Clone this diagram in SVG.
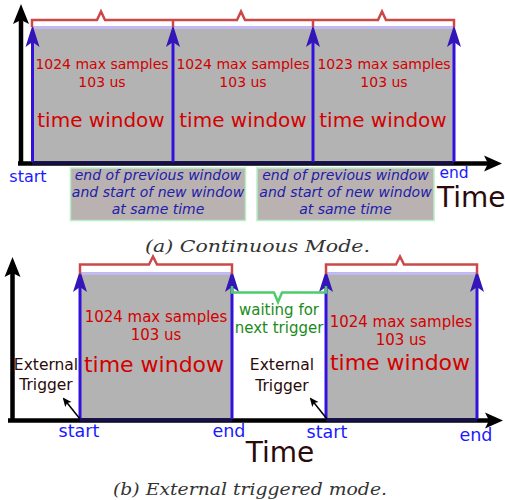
<svg xmlns="http://www.w3.org/2000/svg" xmlns:xlink="http://www.w3.org/1999/xlink" width="505" height="500" viewBox="0 0 505 500">
<style>
.win{fill:#b3b3b3}
.strip{fill:#c4b8f2}
.bl{stroke:#3311dd;stroke-width:3;fill:none}
.ah{fill:#3415b8}
.ax{stroke:#000;stroke-width:4.5;fill:none}
.axn{stroke:#16104a;stroke-width:3.5;fill:none}
.br{stroke:#cc4848;stroke-width:2.5;fill:none;stroke-linejoin:miter}
.gb{stroke:#4ccc6a;stroke-width:2.5;fill:none}
.rt{font-family:"DejaVu Sans",sans-serif;fill:#d40000;text-anchor:middle}
.bt{font-family:"DejaVu Sans",sans-serif;fill:#1a1aff;text-anchor:middle}
.box{fill:#bab2b1;stroke:#b6eec6;stroke-width:1.5}
.bx{font-family:"DejaVu Sans",sans-serif;font-style:italic;font-size:14px;fill:#2020a8;text-anchor:middle}
.tm{font-family:"DejaVu Sans",sans-serif;font-size:28px;fill:#2b0a0a}
.et{font-family:"DejaVu Sans",sans-serif;font-size:15.5px;fill:#2b0a0a;text-anchor:middle}
.gt{font-family:"DejaVu Sans",sans-serif;font-size:15px;fill:#1a8c1a;text-anchor:middle}
.cap{font-family:"DejaVu Serif","Liberation Serif",serif;font-style:italic;font-size:17px;fill:#333}
</style>
<defs>
<path id="ah" class="ah" d="M0,0 L7,22 L0,17 L-7,22 Z"/>
<path id="axU" d="M0,0 L8,20 L0,16 L-8,20 Z" fill="#000"/>
<path id="axR" d="M0,0 L-18,-8 L-14,0 L-18,8 Z" fill="#000"/>
<marker id="sm" markerWidth="9" markerHeight="9" refX="7" refY="4" orient="auto" markerUnits="userSpaceOnUse">
<path d="M9,4 L0,0 L2,4 L0,8 Z" fill="#000"/>
</marker>
</defs>

<!-- ===== (a) Continuous mode ===== -->
<g id="windows-a">
<rect class="win" x="32" y="29" width="423" height="134"/>
<rect class="strip" x="32" y="26" width="423" height="3"/>
</g>

<g id="window-a1">
<text class="rt" x="102" y="69" font-size="14">1024 max samples</text>
<text class="rt" x="102" y="87" font-size="14">103 us</text>
<text class="rt" x="101" y="127" font-size="20">time window</text>
</g>
<g id="window-a2">
<text class="rt" x="243" y="69" font-size="14">1024 max samples</text>
<text class="rt" x="243" y="87" font-size="14">103 us</text>
<text class="rt" x="243" y="127" font-size="20">time window</text>
</g>
<g id="window-a3">
<text class="rt" x="384" y="69" font-size="14">1023 max samples</text>
<text class="rt" x="384" y="87" font-size="14">103 us</text>
<text class="rt" x="383" y="127" font-size="20">time window</text>
</g>

<g id="axes-a">
<line class="ax" x1="21" y1="163.5" x2="21" y2="12"/>
<use xlink:href="#axU" x="21" y="4"/>
<line class="ax" x1="18" y1="163.5" x2="490" y2="163.5"/>
<line class="axn" x1="32" y1="163" x2="454" y2="163"/>
<use xlink:href="#axR" x="502" y="163.5"/>
</g>

<g id="connectors-a">
<line class="bl" x1="32.5" y1="162" x2="32.5" y2="40"/>
<line class="bl" x1="173" y1="162" x2="173" y2="40"/>
<line class="bl" x1="313" y1="162" x2="313" y2="40"/>
<line class="bl" x1="454" y1="162" x2="454" y2="40"/>
<use xlink:href="#ah" x="32.5" y="25"/>
<use xlink:href="#ah" x="173" y="25"/>
<use xlink:href="#ah" x="313" y="25"/>
<use xlink:href="#ah" x="454" y="25"/>
<path class="br" d="M32,27 V20 H97 L101,11.5 L105,20 H173 V27 M173,20 H237 L241,11.5 L245,20 H313 V27 M313,20 H378 L382,11.5 L386,20 H454 V27"/>
</g>

<g id="label-start-a"><text class="bt" x="28" y="182" font-size="16">start</text></g>
<g id="label-end-a"><text class="bt" x="454" y="178" font-size="15.5">end</text></g>
<g id="label-time-a"><text class="tm" x="437" y="207">Time</text></g>

<g id="note-a1">
<rect class="box" x="70.5" y="168" width="175" height="52.5"/>
<text class="bx" x="158" y="180">end of previous window</text>
<text class="bx" x="158" y="197">and start of new window</text>
<text class="bx" x="158" y="214">at same time</text>
</g>
<g id="note-a2">
<rect class="box" x="257" y="168" width="177" height="52.5"/>
<text class="bx" x="345.5" y="180">end of previous window</text>
<text class="bx" x="345.5" y="197">and start of new window</text>
<text class="bx" x="345.5" y="214">at same time</text>
</g>

<g id="caption-a"><text class="cap" x="145" y="252" textLength="225" lengthAdjust="spacingAndGlyphs">(a) Continuous Mode.</text></g>

<!-- ===== (b) External triggered mode ===== -->
<g id="window-b1">
<rect class="win" x="80" y="275" width="152" height="145"/>
<rect class="strip" x="80" y="272" width="152" height="3"/>
<text class="rt" x="156" y="322" font-size="15">1024 max samples</text>
<text class="rt" x="156" y="340" font-size="15">103 us</text>
<text class="rt" x="154" y="372" font-size="22">time window</text>
</g>
<g id="window-b2">
<rect class="win" x="326" y="275" width="151" height="145"/>
<rect class="strip" x="326" y="272" width="151" height="3"/>
<text class="rt" x="401" y="327" font-size="15">1024 max samples</text>
<text class="rt" x="401" y="345" font-size="15">103 us</text>
<text class="rt" x="400" y="370" font-size="22">time window</text>
</g>

<g id="axes-b">
<line class="ax" x1="12.5" y1="420.5" x2="12.5" y2="265"/>
<use xlink:href="#axU" x="12.5" y="257"/>
<line class="ax" x1="8" y1="420.5" x2="490" y2="420.5"/>
<line class="axn" x1="80" y1="420" x2="232" y2="420"/>
<line class="axn" x1="326" y1="420" x2="477" y2="420"/>
<use xlink:href="#axR" x="503" y="420.5"/>
</g>

<g id="connectors-b">
<line class="bl" x1="80" y1="419" x2="80" y2="285"/>
<line class="bl" x1="232" y1="419" x2="232" y2="285"/>
<line class="bl" x1="326" y1="419" x2="326" y2="285"/>
<line class="bl" x1="477" y1="419" x2="477" y2="285"/>
<use xlink:href="#ah" x="80" y="270"/>
<use xlink:href="#ah" x="232" y="270"/>
<use xlink:href="#ah" x="326" y="270"/>
<use xlink:href="#ah" x="477" y="270"/>
<path class="br" d="M80,274 V264.5 H149 L153,256.5 L157,264.5 H232 V274"/>
<path class="br" d="M326,274 V264.5 H396 L400,256.5 L404,264.5 H477 V274"/>
<path class="gb" d="M232,286 V292.5 H274 L278,302 L282,292.5 H326 V286"/>
<line x1="80" y1="419" x2="64" y2="399" stroke="#000" stroke-width="1.5" marker-end="url(#sm)"/>
<line x1="327" y1="419" x2="311" y2="399" stroke="#000" stroke-width="1.5" marker-end="url(#sm)"/>
</g>

<g id="label-wait"><text class="gt" x="279" y="315">waiting for</text><text class="gt" x="279" y="333">next trigger</text></g>
<g id="trigger-1"><text class="et" x="46" y="370">External</text><text class="et" x="46" y="390">Trigger</text></g>
<g id="trigger-2"><text class="et" x="282" y="370">External</text><text class="et" x="282" y="391">Trigger</text></g>

<g id="label-start-b1"><text class="bt" x="79" y="437" font-size="17.5">start</text></g>
<g id="label-end-b1"><text class="bt" x="229" y="437" font-size="17.5">end</text></g>
<g id="label-start-b2"><text class="bt" x="327" y="438" font-size="17.5">start</text></g>
<g id="label-end-b2"><text class="bt" x="476" y="441" font-size="17.5">end</text></g>
<g id="label-time-b"><text class="tm" x="280" y="462" text-anchor="middle">Time</text></g>

<g id="caption-b"><text class="cap" x="113" y="495" textLength="274" lengthAdjust="spacingAndGlyphs">(b) External triggered mode.</text></g>
</svg>
